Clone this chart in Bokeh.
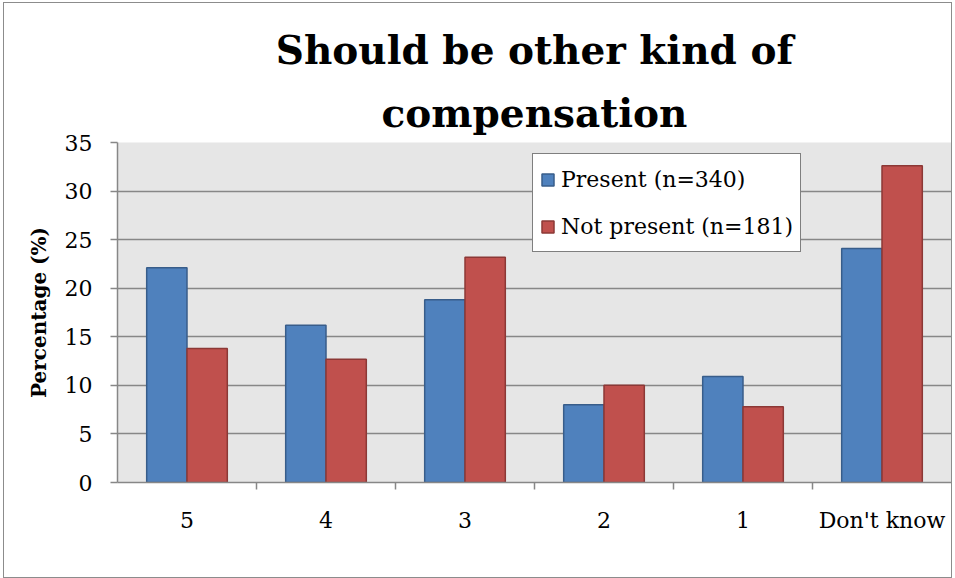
from bokeh.plotting import figure
from bokeh.models import (FactorRange, Range1d, CategoricalAxis, FixedTicker, Title,
                          ColumnDataSource, Legend, LegendItem)
from bokeh.transform import dodge
from bokeh.embed import file_html
from bokeh.resources import INLINE

categories = ["5", "4", "3", "2", "1", "Don't know"]
present = [22.1, 16.2, 18.8, 8.0, 10.9, 24.1]
not_present = [13.8, 12.7, 23.2, 10.0, 7.8, 32.6]
series_names = ["Present (n=340)", "Not present (n=181)"]
y_ticks = [0, 5, 10, 15, 20, 25, 30, 35]
title_lines = ["Should be other kind of", "compensation"]

SERIF = "DejaVu Serif"
GRID = "#878787"

src = ColumnDataSource(dict(cat=categories, present=present, not_present=not_present))

p = figure(x_range=FactorRange(*categories, range_padding=0), y_range=Range1d(0, 35),
           width=949, height=576, output_backend="svg", toolbar_location=None,
           x_axis_location=None, min_border_left=113, min_border_right=2,
           min_border_top=139, min_border_bottom=97)

p.styles = {"border": "1px solid #8c8c8c", "margin-left": "3px", "margin-top": "2px"}
p.background_fill_color = "#e6e6e6"
p.border_fill_color = "white"
p.outline_line_color = None

# Title (two centred lines): main title is the outer line, added Title sits next to the plot
p.title.text = title_lines[0]
p.title.align = "center"
p.title.text_font = SERIF
p.title.text_font_style = "bold"
p.title.text_font_size = "39px"
p.title.text_color = "black"
p.title.standoff = 18
t2 = Title(text=title_lines[1], align="center", text_font=SERIF, text_font_style="bold",
           text_font_size="39px", text_color="black", standoff=13)
p.add_layout(t2, "above")

# Bars
r1 = p.vbar(x=dodge("cat", -0.145, range=p.x_range), top="present", width=0.29, source=src,
            fill_color="#4f81bd", line_color="#385d8a", line_width=1.5)
r2 = p.vbar(x=dodge("cat", 0.145, range=p.x_range), top="not_present", width=0.29, source=src,
            fill_color="#c0504d", line_color="#8c3836", line_width=1.5)

# Y axis
yax = p.yaxis[0]
yax.ticker = FixedTicker(ticks=y_ticks)
yax.axis_line_color = GRID
yax.axis_line_width = 1.5
yax.major_tick_line_color = GRID
yax.major_tick_line_width = 1.5
yax.major_tick_out = 7
yax.major_tick_in = 0
yax.minor_tick_line_color = None
yax.major_label_text_font = SERIF
yax.major_label_text_font_size = "22px"
yax.major_label_text_color = "black"
yax.major_label_standoff = 18
yax.axis_label = "Percentage (%)"
yax.axis_label_text_font = SERIF
yax.axis_label_text_font_style = "bold"
yax.axis_label_text_font_size = "20px"
yax.axis_label_text_color = "black"
yax.axis_label_standoff = 11

p.xgrid.grid_line_color = None
p.ygrid.ticker = FixedTicker(ticks=y_ticks)
p.ygrid.grid_line_color = GRID
p.ygrid.grid_line_width = 1.5

# Boundary tick axis (category separators): factors centred on category boundaries
bounds = ["b%d" % i for i in range(len(categories) + 1)]
p.extra_x_ranges = {"sep": FactorRange(*bounds, range_padding=-0.5, range_padding_units="absolute")}
sep_axis = CategoricalAxis(x_range_name="sep",
                           major_tick_out=7, major_tick_in=0, major_label_text_font_size="0px",
                           major_label_text_alpha=0, major_label_standoff=0,
                           axis_line_color=GRID, axis_line_width=1.5,
                           major_tick_line_color=GRID, major_tick_line_width=1.5)
cat_axis = CategoricalAxis(axis_line_color=None, major_tick_line_color=None,
                           major_label_text_font=SERIF, major_label_text_font_size="22px",
                           major_label_text_color="black", major_label_standoff=12)
p.add_layout(sep_axis, "below")
p.add_layout(cat_axis, "below")

# Legend
legend = Legend(items=[LegendItem(label=series_names[0], renderers=[r1]),
                       LegendItem(label=series_names[1], renderers=[r2])],
                location=(415, 230))
legend.label_text_font = SERIF
legend.label_text_font_size = "22px"
legend.label_text_color = "black"
legend.glyph_width = 15
legend.glyph_height = 15
legend.label_height = 36
legend.label_standoff = 6
legend.spacing = 11
legend.padding = 7
legend.margin = 0
legend.border_line_color = "black"
legend.border_line_width = 1.5
legend.background_fill_color = "white"
legend.background_fill_alpha = 1.0
p.add_layout(legend, "center")

open("out.html", "w").write(file_html(p, INLINE))
